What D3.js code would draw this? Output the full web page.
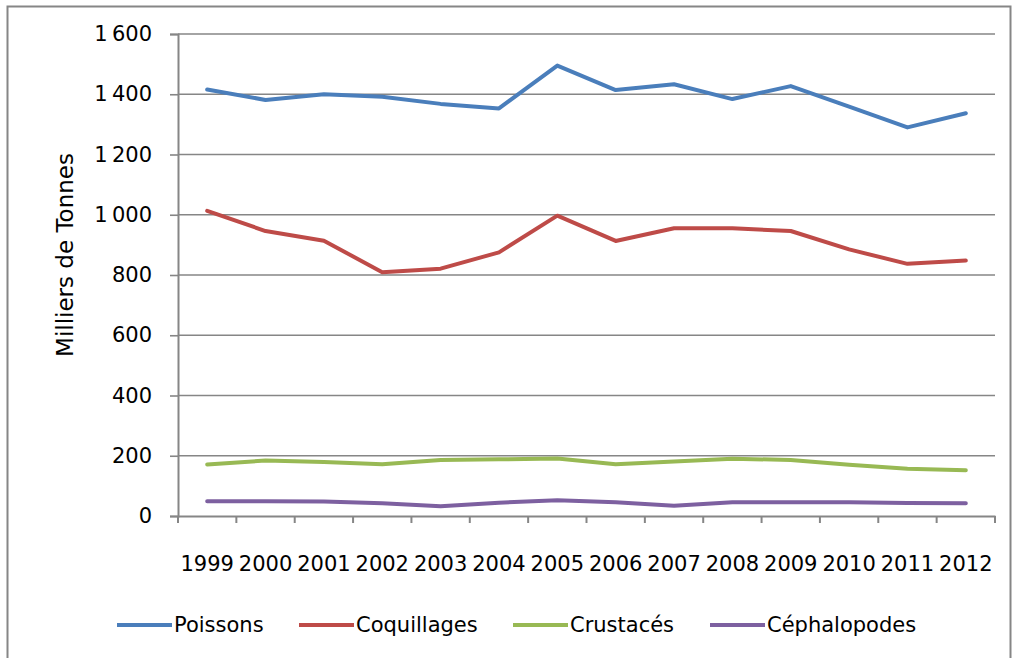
<!DOCTYPE html>
<html><head><meta charset="utf-8">
<script src="https://cdn.jsdelivr.net/npm/d3@7"></script>
<style>body{margin:0;background:#fff}svg{display:block}text{font-family:"DejaVu Sans",sans-serif;fill:#000}</style>
</head><body><svg id="c" width="1012" height="658"></svg>
<script>
const years = ["1999","2000","2001","2002","2003","2004","2005","2006","2007","2008","2009","2010","2011","2012"];
const seriesNames = ["Poissons","Coquillages","Crustacés","Céphalopodes"];
const poissons = [1416,1381,1400,1392,1368,1353,1495,1414,1433,1384,1427,1359,1290,1337];
const coquillages = [1013,946,914,809,821,875,997,913,955,955,946,885,837,848];
const crustaces = [171,184,179,172,186,188,191,172,181,190,186,170,157,152];
const cephalopodes = [49,49,48,42,32,44,52,46,34,46,46,46,43,42];
const yTicks = [0,200,400,600,800,1000,1200,1400,1600];
const colors = ["#4A7EBB","#BE4B48","#98B954","#7D60A0"];

const svg = d3.select("#c");
svg.append("rect").attr("x",7.5).attr("y",6.5).attr("width",1003).attr("height",660)
  .attr("fill","none").attr("stroke","#868686").attr("stroke-width",2);

const L=178, R=995, T=34, B=516;
const x = d3.scaleBand().domain(years).range([L,R]);
const y = d3.scaleLinear().domain([0,1600]).range([B,T]);
const fmt = v => v>=1000 ? d3.format(",")(v).replace(",", "\u2009") : String(v);
const FS = 21;

// gridlines
svg.append("g").selectAll("line").data(yTicks.filter(d=>d>0)).join("line")
  .attr("x1",L).attr("x2",R).attr("y1",d=>y(d)).attr("y2",d=>y(d))
  .attr("stroke","#868686").attr("stroke-width",1.6);

// y axis
const ya = svg.append("g").attr("transform",`translate(${L},0)`)
  .call(d3.axisLeft(y).tickValues(yTicks).tickFormat(fmt).tickSize(8).tickPadding(18));
ya.select(".domain").attr("stroke","#868686").attr("stroke-width",2);
ya.selectAll(".tick line").attr("stroke","#868686").attr("stroke-width",1.6);
ya.selectAll(".tick text").attr("font-size",FS).attr("font-family","DejaVu Sans").attr("fill","#000");

// x axis
const xa = svg.append("g").attr("transform",`translate(0,${B})`)
  .call(d3.axisBottom(x).tickSize(0).tickPadding(40));
xa.select(".domain").attr("stroke","#868686").attr("stroke-width",2);
xa.selectAll(".tick text").attr("font-size",FS).attr("font-family","DejaVu Sans").attr("fill","#000");
svg.append("g").selectAll("line").data(d3.range(years.length+1)).join("line")
  .attr("x1",i=>L+i*x.bandwidth()).attr("x2",i=>L+i*x.bandwidth())
  .attr("y1",B).attr("y2",B+7).attr("stroke","#868686").attr("stroke-width",2);

// label
svg.append("text").attr("transform","translate(73,255) rotate(-90)")
  .attr("text-anchor","middle").attr("font-size",23).text("Milliers de Tonnes");

// lines
const data = [poissons,coquillages,crustaces,cephalopodes];
const line = d3.line().x((d,i)=>x(years[i])+x.bandwidth()/2).y(d=>y(d));
data.forEach((s,k)=>{
  svg.append("path").attr("d",line(s)).attr("fill","none").attr("stroke",colors[k])
    .attr("stroke-width",4).attr("stroke-linejoin","round").attr("stroke-linecap","round");
});

// legend
const legX = [117,299,513,710];
const lg = svg.append("g");
seriesNames.forEach((n,k)=>{
  lg.append("line").attr("x1",legX[k]).attr("x2",legX[k]+55).attr("y1",625).attr("y2",625)
    .attr("stroke",colors[k]).attr("stroke-width",4);
  lg.append("text").attr("x",legX[k]+57).attr("y",632).attr("font-size",FS).text(n);
});
</script></body></html>
